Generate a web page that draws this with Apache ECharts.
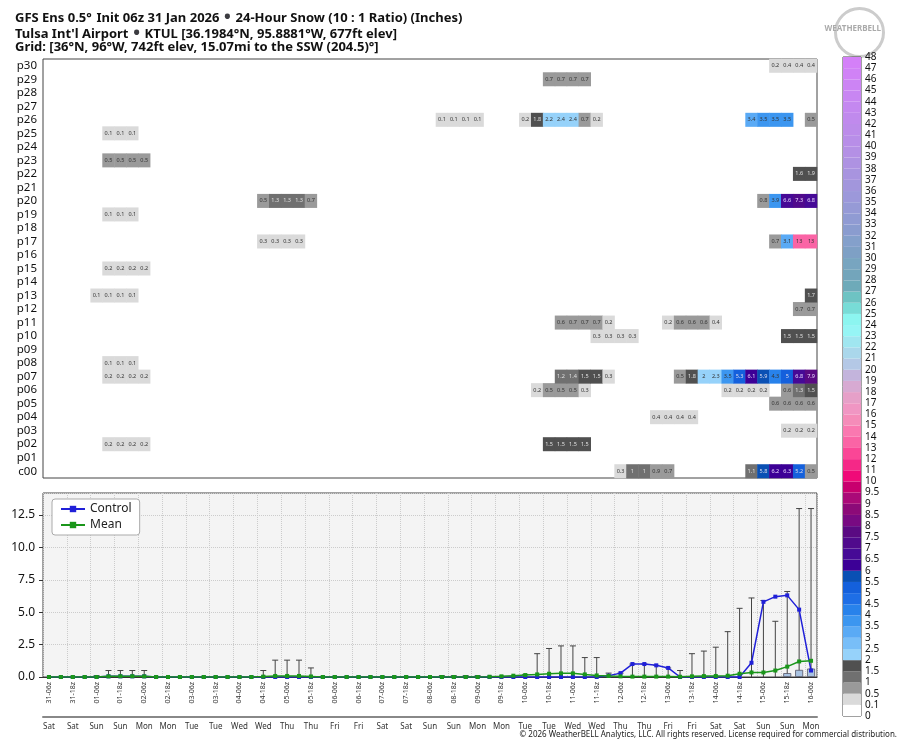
<!DOCTYPE html>
<html><head><meta charset="utf-8">
<script src="https://cdn.jsdelivr.net/npm/echarts@6/dist/echarts.min.js"></script>
<style>html,body{margin:0;padding:0;background:#fff}#c{width:914px;height:750px}</style>
</head><body><div id="c"></div>
<script>
// ---- data ----
const timeLabels = ['31-06z','31-12z','31-18z','01-00z','01-06z','01-12z','01-18z','02-00z','02-06z','02-12z','02-18z','03-00z','03-06z','03-12z','03-18z','04-00z','04-06z','04-12z','04-18z','05-00z','05-06z','05-12z','05-18z','06-00z','06-06z','06-12z','06-18z','07-00z','07-06z','07-12z','07-18z','08-00z','08-06z','08-12z','08-18z','09-00z','09-06z','09-12z','09-18z','10-00z','10-06z','10-12z','10-18z','11-00z','11-06z','11-12z','11-18z','12-00z','12-06z','12-12z','12-18z','13-00z','13-06z','13-12z','13-18z','14-00z','14-06z','14-12z','14-18z','15-00z','15-06z','15-12z','15-18z','16-00z','16-06z'];
const dayLabels = ['Sat','Sat','Sat','Sun','Sun','Sun','Sun','Mon','Mon','Mon','Mon','Tue','Tue','Tue','Tue','Wed','Wed','Wed','Wed','Thu','Thu','Thu','Thu','Fri','Fri','Fri','Fri','Sat','Sat','Sat','Sat','Sun','Sun','Sun','Sun','Mon','Mon','Mon','Mon','Tue','Tue','Tue','Tue','Wed','Wed','Wed','Wed','Thu','Thu','Thu','Thu','Fri','Fri','Fri','Fri','Sat','Sat','Sat','Sat','Sun','Sun','Sun','Sun','Mon','Mon'];
const rowLabels = ['c00','p01','p02','p03','p04','p05','p06','p07','p08','p09','p10','p11','p12','p13','p14','p15','p16','p17','p18','p19','p20','p21','p22','p23','p24','p25','p26','p27','p28','p29','p30'];
// each row: [startIndex, values...]
const c00 = [[48,[0.3,1,1,0.9,0.7]],[59,[1.1,5.8,6.2,6.3,5.2,0.5]]];
const p02 = [[5,[0.2,0.2,0.2,0.2]],[42,[1.5,1.5,1.5,1.5]]];
const p03 = [[62,[0.2,0.2,0.2]]];
const p04 = [[51,[0.4,0.4,0.4,0.4]]];
const p05 = [[61,[0.6,0.6,0.6,0.6]]];
const p06 = [[41,[0.2,0.5,0.5,0.5,0.3]],[57,[0.2,0.2,0.2,0.2]],[62,[0.6,1.3,1.5]]];
const p07 = [[5,[0.2,0.2,0.2,0.2]],[43,[1.2,1.4,1.5,1.5,0.3]],[53,[0.5,1.8,2,2.3,3.5,5.3,6.1,5.9,4.3,5,6.8,7.9]]];
const p08 = [[5,[0.1,0.1,0.1]]];
const p10 = [[46,[0.3,0.3,0.3,0.3]],[62,[1.5,1.5,1.5]]];
const p11 = [[43,[0.6,0.7,0.7,0.7,0.2]],[52,[0.2,0.6,0.6,0.6,0.4]]];
const p12 = [[63,[0.7,0.7]]];
const p13 = [[4,[0.1,0.1,0.1,0.1]],[64,[1.7]]];
const p15 = [[5,[0.2,0.2,0.2,0.2]]];
const p17 = [[18,[0.3,0.3,0.3,0.3]],[61,[0.7,3.1,13,13]]];
const p19 = [[5,[0.1,0.1,0.1]]];
const p20 = [[18,[0.5,1.3,1.3,1.3,0.7]],[60,[0.8,3.9,6.6,7.3,6.8]]];
const p22 = [[63,[1.6,1.9]]];
const p23 = [[5,[0.5,0.5,0.5,0.5]]];
const p25 = [[5,[0.1,0.1,0.1]]];
const p26 = [[33,[0.1,0.1,0.1,0.1]],[40,[0.2,1.8,2.2,2.4,2.4,0.7,0.2]],[59,[3.4,3.5,3.5,3.5]],[64,[0.5]]];
const p29 = [[42,[0.7,0.7,0.7,0.7]]];
const p30 = [[61,[0.2,0.4,0.4,0.4]]];
const rowsData = {c00,p02,p03,p04,p05,p06,p07,p08,p10,p11,p12,p13,p15,p17,p19,p20,p22,p23,p25,p26,p29,p30};

const controlVals = [0,0,0,0,0,0.05,0.05,0.05,0.05,0,0,0,0,0,0,0,0,0,0,0,0,0,0,0,0,0,0,0,0,0,0,0,0,0,0,0,0,0,0,0,0,0,0,0,0,0,0,0.1,0.3,1,1,0.9,0.7,0,0,0,0,0,0,1.1,5.8,6.2,6.3,5.2,0.5];
const meanVals = [0,0,0,0,0,0.05,0.06,0.06,0.05,0,0,0,0,0,0,0,0,0,0.03,0.08,0.08,0.08,0.04,0,0,0,0,0,0,0,0,0,0,0,0,0,0,0.02,0.05,0.1,0.15,0.2,0.25,0.28,0.28,0.2,0.12,0.08,0.05,0.03,0.03,0.03,0.03,0.02,0.05,0.07,0.08,0.1,0.25,0.35,0.35,0.5,0.8,1.2,1.25];
const maxVals = [0,0,0,0,0.1,0.5,0.5,0.5,0.5,0,0,0,0,0,0,0,0,0,0.5,1.3,1.3,1.3,0.7,0,0,0,0,0,0,0,0,0,0,0.1,0.1,0.1,0.1,0,0,0,0.2,1.8,2.2,2.4,2.4,1.5,1.5,0.3,0.3,1,1,0.9,0.7,0.5,1.8,2,2.3,3.5,5.3,6.1,5.9,4.3,6.6,13,13];
const boxVals = [[62,0.3],[63,0.55],[64,0.65]];

const cbLabels = ['0','0.1','0.5','1','1.5','2','2.5','3','3.5','4','4.5','5','5.5','6','6.5','7','7.5','8','8.5','9','9.5','10','11','12','13','14','15','16','17','18','19','20','21','22','23','24','25','26','27','28','29','30','31','32','33','34','35','36','37','38','39','40','41','42','43','44','45','46','47','48'];
const cbColors = ['#ffffff','#dadada','#9a9a9a','#707070','#505050','#96d2fa','#78bef8','#5aaaf5','#3c96f0','#2882eb','#1e6ee6','#1460dc','#0a50b4','#3c0096','#460a96','#500a8c','#5a0a82','#780a82','#8c0a78','#aa0a78','#c8006e','#f00a78','#f52887','#fa4696','#fa64a5','#fa78b0','#f58cb9','#f096c3','#e6a0c8','#d7aad2','#c3b4dc','#b4c8e6','#aad7eb','#a0e6f0','#96f5f5','#8cf5f0','#78dcd7','#6ec3c3','#6eaab9','#73a5bb','#78a5c0','#7ea0c5','#84a0cb','#8a9ccf','#909bd3','#969ad6','#9c98da','#a296dc','#a894df','#ae92e2','#b490e5','#b88ee8','#bc8cea','#c08aed','#c488f0','#c886f2','#cc84f4','#d082f6','#d480f8'];

// ---- build ----
const cbVals = cbLabels.map(Number);
const pieces = cbColors.map((c,k)=>({gte:cbVals[k], lt:cbVals[k+1], color:c}));
const heat = [];
Object.keys(rowsData).forEach(r=>{
  const y = rowLabels.indexOf(r);
  rowsData[r].forEach(([s,vals])=>vals.forEach((v,j)=>{
    let lc = '#333';
    if (v>=1 && v<2) lc='#e0e0e0';
    if (v>=6 && v<10) lc='#e8d8ff';
    if (v>=4.5 && v<6) lc='#dde';
    heat.push({value:[s+j,y,v], label:{color:lc}});
  }));
});
const cats = timeLabels.map((t,i)=>String(i));
const chart = echarts.init(document.getElementById('c'));
const G = {left:43,right:97};
const rt = {b:{fontWeight:'bold',fontSize:13,fontFamily:'Noto Sans',color:'#111'},n:{fontSize:13,fontFamily:'Noto Sans',color:'#111'}};
chart.setOption({
  animation:false,
  backgroundColor:'#fff',
  textStyle:{fontFamily:'Noto Sans'},
  title:[
    {left:10,top:4,text:'{b|GFS Ens 0.5°} {n|Init 06z 31 Jan 2026} • {b|24-Hour Snow (10 : 1 Ratio) (Inches)}',textStyle:{rich:rt}},
    {left:10,top:20,text:'{b|Tulsa Int\'l Airport} • {n|KTUL [36.1984°N, 95.8881°W, 677ft elev]}',textStyle:{rich:rt}},
    {left:10,top:36,text:'{b|Grid}{n|: [36°N, 96°W, 742ft elev, 15.07mi to the SSW (204.5)°]}',textStyle:{rich:rt}},
    {right:12,bottom:6,text:'© 2026 WeatherBELL Analytics, LLC. All rights reserved. License required for commercial distribution.',textStyle:{fontSize:8,fontWeight:'normal',color:'#222',fontFamily:'Noto Sans'}},
    {right:28,top:20,text:'WEATHERBELL',textStyle:{fontSize:8,fontWeight:'bold',color:'#aaa',fontFamily:'Noto Sans'}}
  ],
  graphic:[{type:'circle',right:28,top:6,shape:{r:24},style:{fill:'none',stroke:'#ccc',lineWidth:3},z:-1}],
  grid:[
    {left:G.left,right:G.right,top:59,bottom:272,show:true,borderColor:'#444',borderWidth:1,backgroundColor:'#fff'},
    {left:G.left,right:G.right,top:493,bottom:73,show:true,borderColor:'#444',borderWidth:1,backgroundColor:'#f4f4f4'},
    {left:843,width:18,top:57,bottom:34,show:true,borderColor:'#444',borderWidth:1}
  ],
  legend:{left:52,top:499,orient:'vertical',data:['Control','Mean'],backgroundColor:'#fff',borderColor:'#aaa',borderWidth:1,borderRadius:3,padding:[4,8],itemGap:4,itemWidth:24,itemHeight:8,itemStyle:{borderWidth:0},textStyle:{fontSize:12,color:'#222'}},
  visualMap:{show:false,type:'piecewise',seriesIndex:0,pieces:pieces,dimension:2},
  xAxis:[
    {gridIndex:0,type:'category',data:cats,axisLabel:{show:false},axisTick:{show:false},axisLine:{show:false}},
    {gridIndex:1,type:'category',data:cats,axisLine:{lineStyle:{color:'#333'}},axisTick:{interval:0,length:3,lineStyle:{color:'#333'}},
      axisLabel:{interval:1,rotate:90,fontSize:7,color:'#333',margin:5,formatter:(v,i)=>timeLabels[+v]},
      splitLine:{show:true,interval:1,lineStyle:{type:'dotted',color:'#ccc'}}},
    {gridIndex:1,type:'category',data:cats,position:'bottom',offset:40,axisLine:{lineStyle:{color:'#888',width:2}},axisTick:{show:false},
      axisLabel:{interval:1,fontSize:8,color:'#333',margin:6,formatter:v=>dayLabels[+v]}},
    {gridIndex:2,type:'value',min:0,max:1,show:false}
  ],
  yAxis:[
    {gridIndex:0,type:'category',data:rowLabels,axisLine:{show:false},axisTick:{length:4,interval:0,lineStyle:{color:'#333'}},axisLabel:{interval:0,fontSize:11.5,color:'#111',margin:6}},
    {gridIndex:1,type:'value',min:0,max:14.2,interval:2.5,axisLine:{show:false},axisTick:{show:true,length:4,lineStyle:{color:'#333'}},
      axisLabel:{fontSize:12,color:'#111',formatter:v=>v.toFixed(1),showMaxLabel:false},splitLine:{lineStyle:{type:'dotted',color:'#ccc'}}},
    {gridIndex:2,type:'value',min:0,max:cbLabels.length-1,interval:1,position:'right',axisLine:{show:false},axisTick:{show:false},
      axisLabel:{fontSize:10,color:'#111',margin:4,formatter:v=>cbLabels[v]},splitLine:{show:false}}
  ],
  series:[
    {type:'heatmap',xAxisIndex:0,yAxisIndex:0,data:heat,label:{show:true,fontSize:5.5,formatter:p=>p.value[2]}},
    {type:'custom',xAxisIndex:1,yAxisIndex:1,data:maxVals.map((v,i)=>[i,v]),z:2,
      renderItem:(params,api)=>{
        const v=api.value(1); if(!v) return null;
        const a=api.coord([api.value(0),0]), b=api.coord([api.value(0),v]);
        return {type:'group',children:[
          {type:'line',shape:{x1:a[0],y1:a[1],x2:b[0],y2:b[1]},style:{stroke:'#444',lineWidth:1}},
          {type:'line',shape:{x1:b[0]-3,y1:b[1],x2:b[0]+3,y2:b[1]},style:{stroke:'#444',lineWidth:1}}]};
      }},
    {type:'bar',xAxisIndex:1,yAxisIndex:1,data:boxVals,barWidth:8,itemStyle:{color:'#a9c3e2',borderColor:'#556',borderWidth:0.8},z:3},
    {name:'Control',type:'line',xAxisIndex:1,yAxisIndex:1,data:controlVals,symbol:'rect',symbolSize:4,lineStyle:{color:'#2020d8',width:1.5},itemStyle:{color:'#2020d8'},z:5},
    {name:'Mean',type:'line',xAxisIndex:1,yAxisIndex:1,data:meanVals,symbol:'rect',symbolSize:4,lineStyle:{color:'#1a961a',width:1.5},itemStyle:{color:'#1a961a'},z:6},
    {type:'custom',xAxisIndex:3,yAxisIndex:2,data:cbColors.map((c,k)=>[k]),
      renderItem:(params,api)=>{
        const k=api.value(0); const a=api.coord([0,k]), b=api.coord([1,k+1]);
        return {type:'rect',shape:{x:a[0],y:b[1],width:b[0]-a[0],height:a[1]-b[1]},style:{fill:cbColors[k]}};
      }}
  ]
});
</script></body></html>
